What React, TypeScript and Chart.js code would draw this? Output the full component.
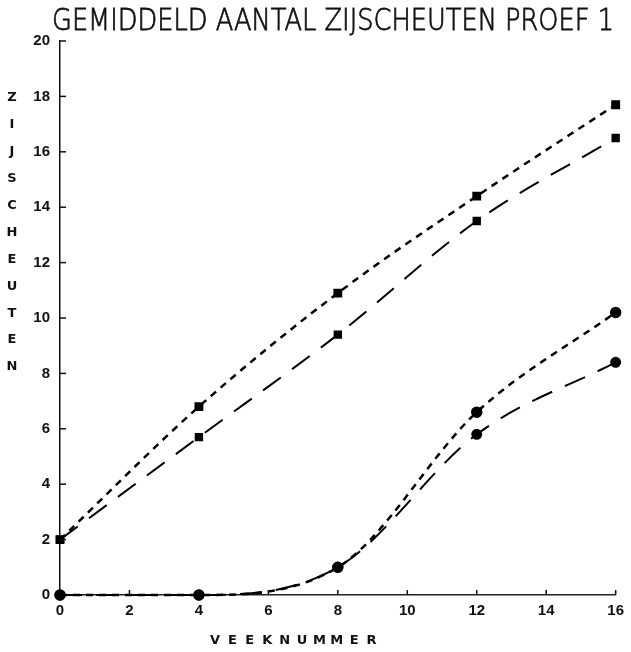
import React, { useEffect, useRef } from "react";
import { Chart, registerables } from "chart.js";

Chart.register(...registerables);

const weeks = [0, 4, 8, 12, 16];
const seriesA = [2.0, 6.8, 10.9, 14.4, 17.7];
const seriesB = [2.0, 5.7, 9.4, 13.5, 16.5];
const seriesC = [0, 0, 1.0, 6.6, 10.2];
const seriesD = [0, 0, 1.0, 5.8, 8.4];
const titleText = "GEMIDDELD AANTAL ZIJSCHEUTEN PROEF 1";
const yTitle = "ZIJSCHEUTEN";
const xTitle = "VEEKNUMMER";

const pts = (vals: number[]) => weeks.map((w, i) => ({ x: w, y: vals[i] }));

const decorPlugin = {
  id: "decor",
  afterDraw(chart: any) {
    const ctx = chart.ctx;
    const xs = chart.scales.x;
    const ys = chart.scales.y;
    const area = chart.chartArea;
    ctx.save();
    ctx.fillStyle = "#111";
    ctx.strokeStyle = "#111";
    // title
    ctx.font = '200 31px "DejaVu Sans"';
    ctx.textBaseline = "middle";
    ctx.textAlign = "left";
    ctx.lineWidth = 0.8;
    ctx.fillText(titleText, 52, 22, 562);
    ctx.strokeText(titleText, 52, 22, 562);
    // vertical y title
    ctx.font = 'bold 13px "DejaVu Sans"';
    ctx.textAlign = "center";
    for (let i = 0; i < yTitle.length; i++) {
      ctx.fillText(yTitle[i], 12, 98 + i * 26.9);
    }
    // x title
    for (let i = 0; i < xTitle.length; i++) {
      ctx.fillText(xTitle[i], 215 + i * 17.4, 641);
    }
    // inward ticks
    ctx.lineWidth = 1.5;
    for (let v = 2; v <= 20; v += 2) {
      const y = ys.getPixelForValue(v);
      ctx.beginPath();
      ctx.moveTo(area.left, y);
      ctx.lineTo(area.left + 6, y);
      ctx.stroke();
    }
    for (let v = 2; v <= 16; v += 2) {
      const x = xs.getPixelForValue(v);
      ctx.beginPath();
      ctx.moveTo(x, area.bottom);
      ctx.lineTo(x, area.bottom - 5);
      ctx.stroke();
    }
    ctx.restore();
  },
};

export default function App() {
  const ref = useRef<HTMLCanvasElement>(null);
  useEffect(() => {
    if (!ref.current) return;
    const common = {
      borderColor: "#000",
      backgroundColor: "#000",
      pointBackgroundColor: "#000",
      pointBorderColor: "#000",
      cubicInterpolationMode: "monotone" as const,
      clip: false as any,
      fill: false,
    };
    const chart = new Chart(ref.current, {
      type: "line",
      data: {
        datasets: [
          { ...common, label: "A", data: pts(seriesA), borderWidth: 2.5, borderDash: [7, 6], pointStyle: "rect", pointRadius: 4.5 },
          { ...common, label: "B", data: pts(seriesB), borderWidth: 2, borderDash: [22, 14], pointStyle: "rect", pointRadius: 4.5 },
          { ...common, label: "C", data: pts(seriesC), borderWidth: 2.5, borderDash: [7, 6], pointStyle: "circle", pointRadius: 4.5 },
          { ...common, label: "D", data: pts(seriesD), borderWidth: 2, borderDash: [22, 14], pointStyle: "circle", pointRadius: 4.5 },
        ],
      },
      options: {
        responsive: false,
        animation: false,
        layout: { padding: { top: 41, right: 12, left: 0, bottom: 0 } },
        plugins: { legend: { display: false }, tooltip: { enabled: false }, title: { display: false } },
        scales: {
          x: {
            type: "linear",
            min: 0,
            max: 16,
            grid: { display: false, drawTicks: false },
            border: { display: true, color: "#222", dash: [1, 6], width: 1.5 },
            ticks: {
              stepSize: 2,
              padding: 7,
              color: "#111",
              font: { family: '"Liberation Sans"', size: 15, weight: "bold" },
            },
            afterFit: (s: any) => { s.height = 57; },
          },
          y: {
            min: 0,
            max: 20,
            grid: { display: false, drawTicks: false },
            border: { display: true, color: "#111", dash: [3, 3], width: 1.5 },
            ticks: {
              stepSize: 2,
              padding: 10,
              color: "#111",
              font: { family: '"Liberation Sans"', size: 15, weight: "bold" },
            },
            afterFit: (s: any) => { s.width = 60; },
          },
        },
      },
      plugins: [decorPlugin],
    } as any);
    return () => chart.destroy();
  }, []);
  return (
    <div style={{ position: "fixed", left: 0, top: 0, width: 631, height: 652, background: "#fff" }}>
      <canvas ref={ref} width={631} height={652} style={{ display: "block" }} />
    </div>
  );
}
